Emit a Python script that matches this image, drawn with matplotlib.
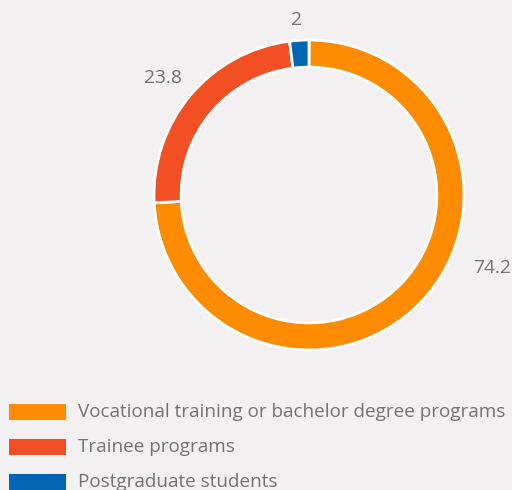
import matplotlib
matplotlib.use("Agg")
import matplotlib.pyplot as plt
from matplotlib.patches import Rectangle

categories = ["Vocational training or bachelor degree programs", "Trainee programs", "Postgraduate students"]
values = [74.2, 23.8, 2]
value_labels = ["74.2", "23.8", "2"]
colors = ["#FF8C00", "#F24F24", "#0066B3"]
bg = "#F2F0F1"
txt = "#737373"

W, H = 512, 490
fig = plt.figure(figsize=(W / 100, H / 100), dpi=100, facecolor=bg)
plt.rcParams['font.family'] = ['Open Sans', 'DejaVu Sans']

cx, cy, r = 309, 195, 155
ax = fig.add_axes([(cx - r) / W, (H - cy - r) / H, 2 * r / W, 2 * r / H])
ax.set_facecolor(bg)
wedges, _ = ax.pie(values, colors=colors, startangle=90, counterclock=False, radius=1,
                   wedgeprops=dict(width=0.175, edgecolor="white", linewidth=2))
ax.set_xlim(-1, 1)
ax.set_ylim(-1, 1)
ax.set_aspect("equal")
ax.axis("off")

# value labels (pixel positions of text centers)
label_pos = [(492, 268), (163, 78), (296, 20)]
for (px, py), lab in zip(label_pos, value_labels):
    fig.text(px / W, 1 - py / H, lab, ha="center", va="center", fontsize=13.8, color=txt)

# legend
row_y = [412, 447, 482]
for yy, c, name in zip(row_y, colors, categories):
    fig.patches.append(Rectangle((9 / W, 1 - (yy + 8) / H), 57 / W, 16 / H,
                                 transform=fig.transFigure, facecolor=c, edgecolor="none"))
    fig.text(78 / W, 1 - yy / H, name, ha="left", va="center", fontsize=13.6, color=txt)

fig.savefig("out.png", dpi=100, facecolor=bg)
